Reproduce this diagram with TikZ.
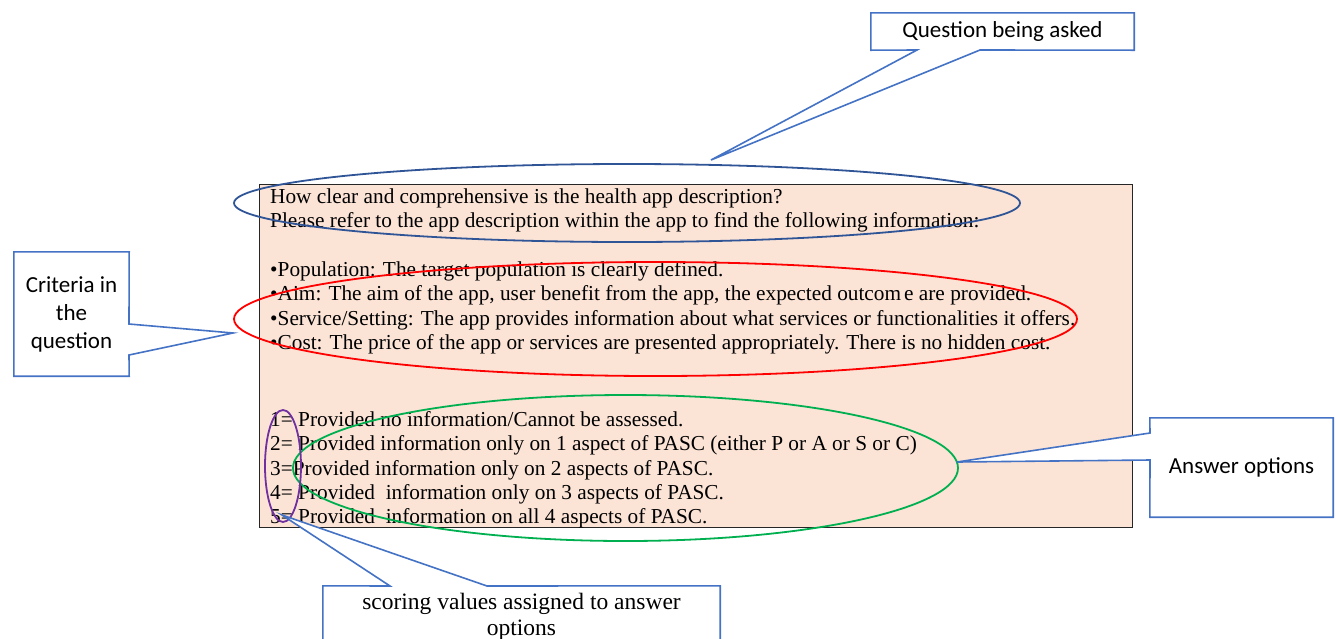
\documentclass[tikz,border=0pt]{standalone}
\usepackage{fontspec}
\setmainfont{Liberation Serif}
\newfontfamily\calloutfont{Carlito}
\definecolor{peach}{HTML}{FBE3D6}
\definecolor{callblue}{HTML}{4472C4}
\definecolor{qblue}{HTML}{2F5597}
\definecolor{critred}{HTML}{FF0000}
\definecolor{ansgreen}{HTML}{00B050}
\definecolor{scorepurple}{HTML}{7030A0}
\tikzset{
  bodyline/.style={anchor=base west, inner sep=0pt, font=\fontsize{21.3}{24.5}\selectfont},
  calloutbox/.style={draw=callblue, line width=1.6pt, fill=white, line join=miter},
  calloutlabel/.style={inner sep=0pt, align=center, font=\calloutfont\fontsize{23}{28}\selectfont},
  ring/.style={line width=1.8pt},
}
\begin{document}
\begin{tikzpicture}[x=1pt,y=-1pt]
\useasboundingbox (0,0) rectangle (1336,638);

% question card
\draw[fill=peach, draw=black!85, line width=1pt] (259,184) rectangle (1132,527);

\node[bodyline] (q1) at (270,203) {How clear and comprehensive is the health app description?};
\node[bodyline] (q2) at (270,227.5) {Please refer to the app description within the app to find the following information:};
\node[bodyline] (c1) at (270,276) {\textbullet Population: The target population is clearly defined.};
\node[bodyline] (c2) at (270,300.5) {\textbullet Aim: The aim of the app, user benefit from the app, the expected outcom\kern3pt e are provided.};
\node[bodyline] (c3) at (270,325) {\textbullet Service/Setting: The app provides information about what services or functionalities it offers.};
\node[bodyline] (c4) at (270,349.5) {\textbullet Cost: The price of the app or services are presented appropriately. There is no hidden cost.};
\node[bodyline] (a1) at (270,426) {1= Provided no information/Cannot be assessed.};
\node[bodyline] (a2) at (270,450.5) {2= Provided information only on 1 aspect of PASC (either P or A or S or C)};
\node[bodyline] (a3) at (270,475) {3=Provided information only on 2 aspects of PASC.};
\node[bodyline] (a4) at (270,499.5) {4= Provided\ \ information only on 3 aspects of PASC.};
\node[bodyline] (a5) at (270,523) {5= Provided\ \ information on all 4 aspects of PASC.};

% highlighting rings
\draw[ring, qblue] (627,203) ellipse [x radius=393, y radius=39];
\draw[ring, critred] (655.5,319) ellipse [x radius=421.5, y radius=57];
\draw[ring, ansgreen] (625.5,468) ellipse [x radius=332.5, y radius=73];
\draw[ring, scorepurple] (283,466) ellipse [x radius=18, y radius=56];

% pointer tips
\coordinate (tipQ) at (711,160);
\coordinate (tipC) at (233,333);
\coordinate (tipA) at (957,462);
\coordinate (tipS) at (282,515);

% callout: question
\node[calloutlabel, minimum width=263pt, minimum height=37pt] (lblQ) at (1002.5,31.5) {};
\draw[calloutbox] (lblQ.north west) -- (lblQ.north east) -- (lblQ.south east)
  -- (980,50) -- (tipQ) -- (917,50) -- (lblQ.south west) -- cycle;
\node[calloutlabel] at (lblQ.center) {Question being asked};

% callout: criteria
\node[calloutlabel, minimum width=115pt, minimum height=124pt] (lblC) at (71.5,314) {};
\draw[calloutbox] (lblC.north west) -- (lblC.north east) -- (129,324) -- (tipC)
  -- (129,355) -- (lblC.south east) -- (lblC.south west) -- cycle;
\node[calloutlabel] at (lblC.center) {Criteria in\\the\\question};

% callout: answers
\node[calloutlabel, minimum width=183pt, minimum height=99pt] (lblA) at (1241.5,467.5) {};
\draw[calloutbox] (lblA.north west) -- (lblA.north east) -- (lblA.south east)
  -- (lblA.south west) -- (1150,460) -- (tipA) -- (1150,433) -- cycle;
\node[calloutlabel] at (lblA.center) {Answer options};

% callout: scores
\node[inner sep=0pt, minimum width=397pt, minimum height=80pt] (lblS) at (521.5,626) {};
\draw[calloutbox] (lblS.south west) -- (lblS.north west) -- (390,586) -- (tipS)
  -- (487,586) -- (lblS.north east) -- (lblS.south east);
\node[inner sep=0pt, align=center, font=\fontsize{23.5}{25.5}\selectfont, anchor=north] at (521.5,593)
  {scoring values assigned to answer\\options};
\end{tikzpicture}
\end{document}
